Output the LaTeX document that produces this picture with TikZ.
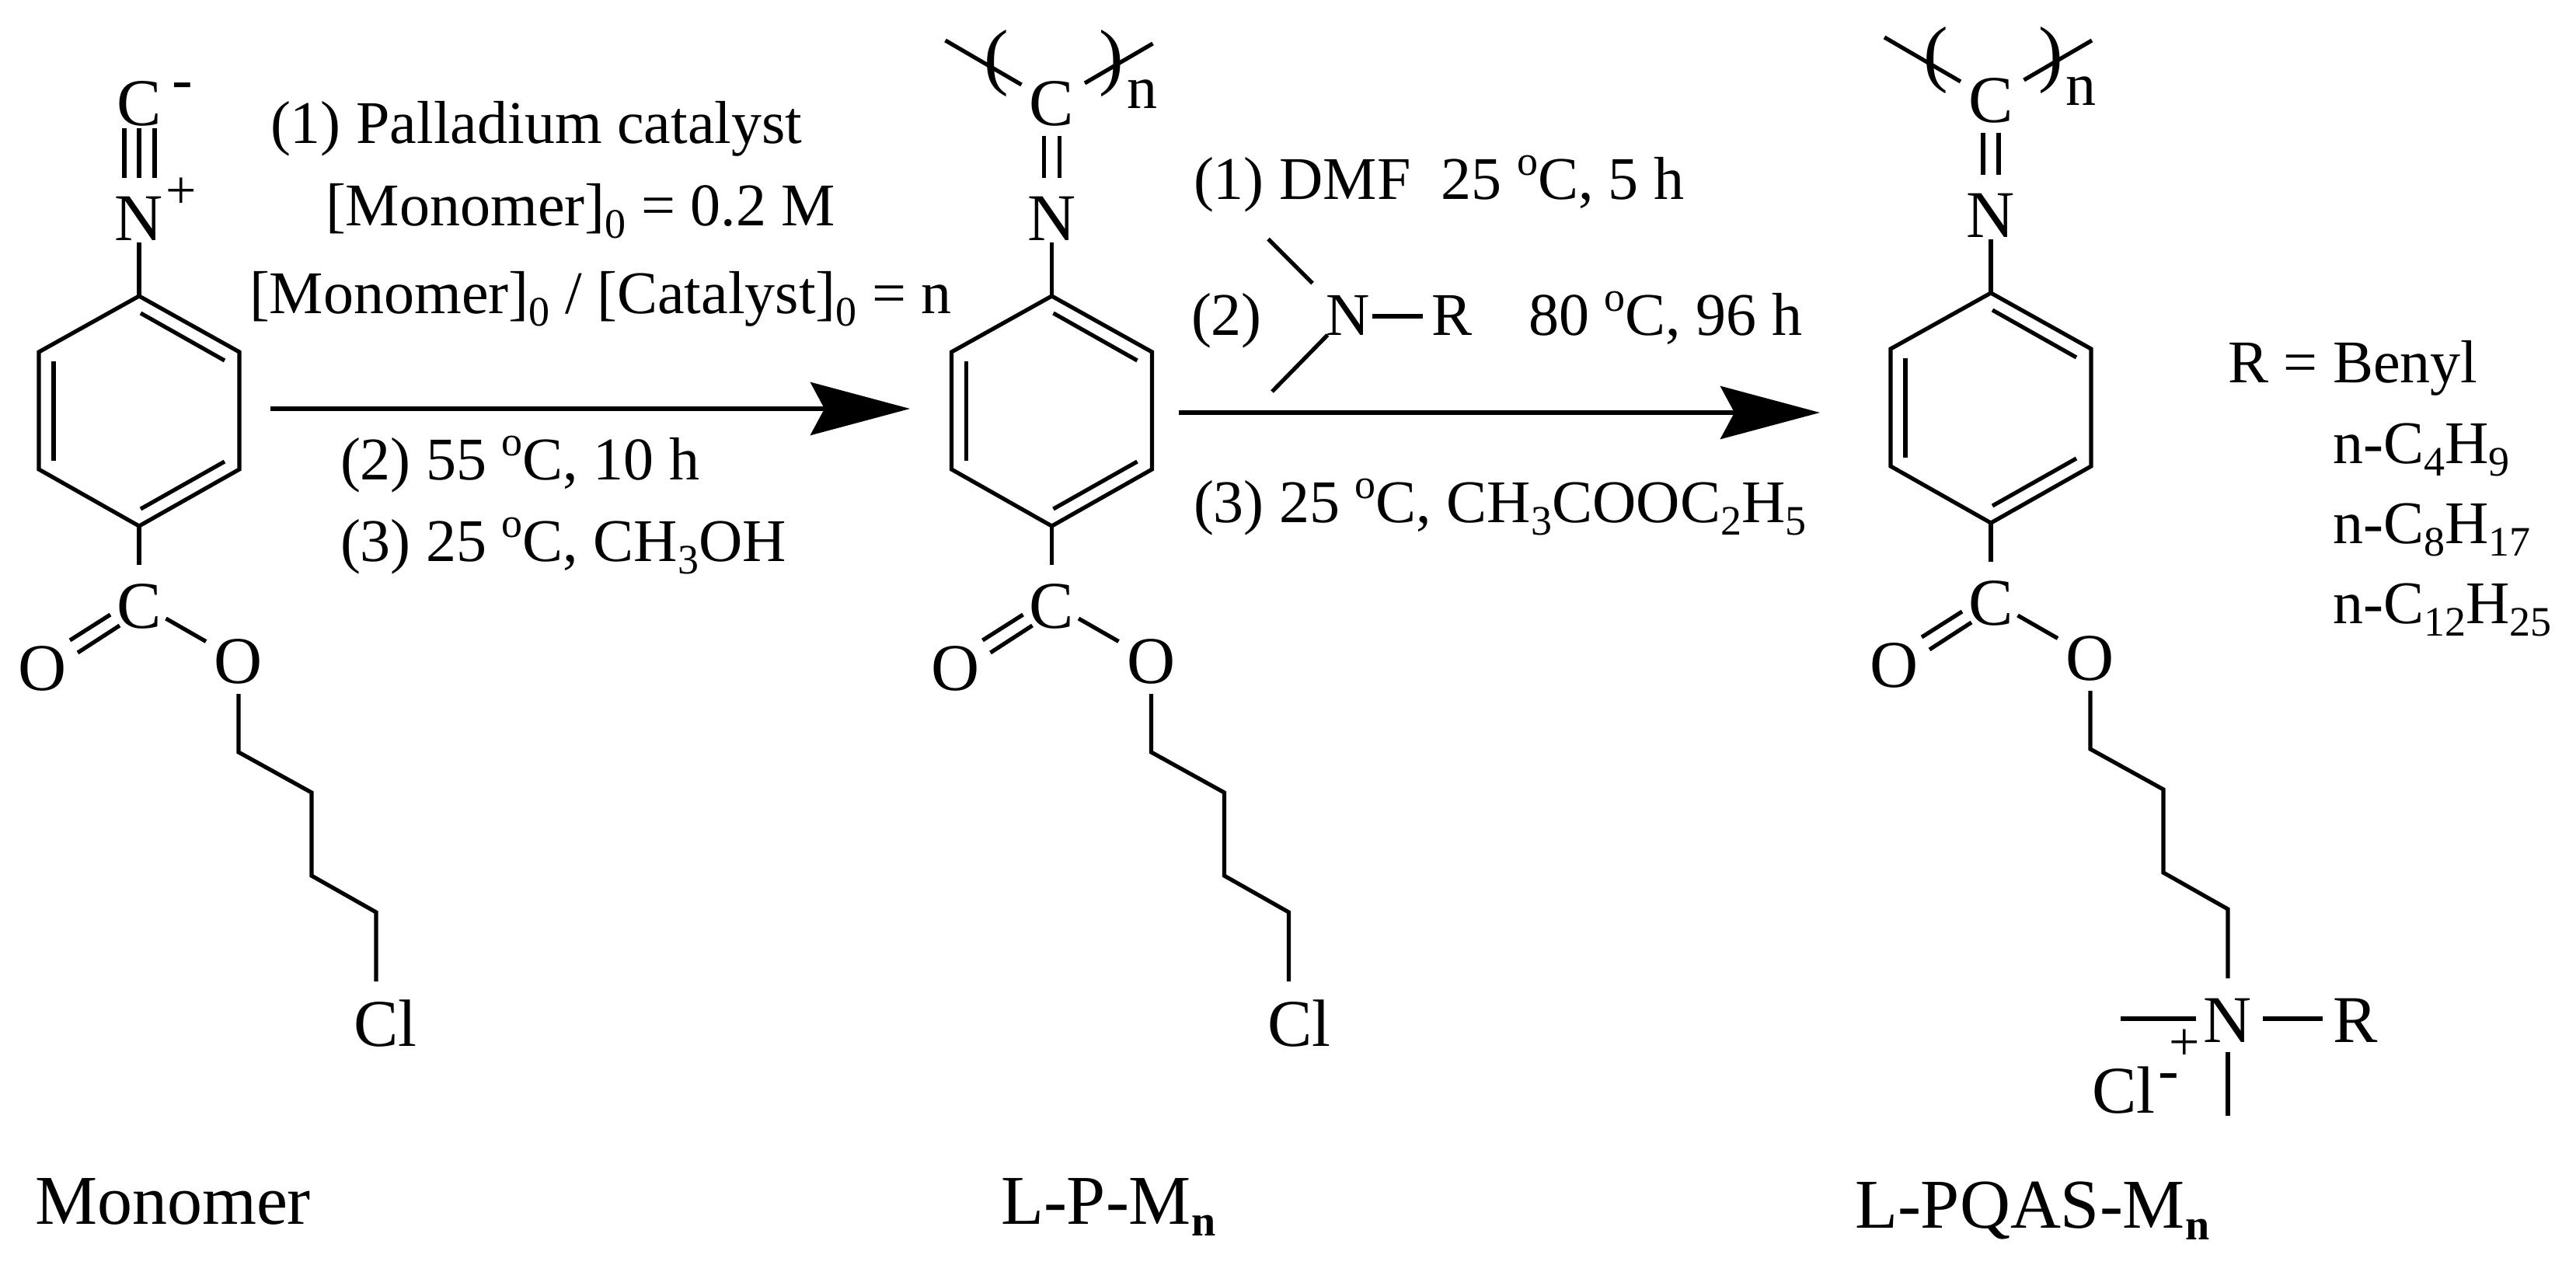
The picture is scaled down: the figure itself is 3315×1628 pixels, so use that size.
\documentclass[tikz,border=0pt]{standalone}
\usepackage{fontspec}
\usetikzlibrary{arrows.meta}
\setmainfont{Liberation Serif}
\newcommand\fsz[1]{\fontsize{#1}{#1}\selectfont}
\newcommand\lowtxt[1]{\raisebox{-8pt}{\fsz{27pt}#1}}
\newcommand\degc{\raisebox{15.5pt}{\fsz{27pt}o}C}
\newcommand\lowbold[1]{\raisebox{-7.5pt}{\fsz{28pt}\bfseries #1}}
\tikzset{
  x=0.5pt,y=-0.5pt,
  bond/.style={line width=2.6pt,line cap=butt,line join=miter},
  atom/.style={inner sep=0pt,outer sep=0pt,anchor=base,font=\fsz{43pt}},
  txt/.style={inner sep=0pt,outer sep=0pt,anchor=base west,font=\fsz{39pt}},
  lab/.style={inner sep=0pt,outer sep=0pt,anchor=base west,font=\fsz{45pt}},
  charge/.style={inner sep=0pt,outer sep=0pt,anchor=base,font=\fsz{35pt}},
  minus/.style={inner sep=0pt,outer sep=0pt,anchor=base,font=\fsz{40pt}},
  paren/.style={inner sep=0pt,outer sep=0pt,anchor=base,font=\fsz{47.5pt}},
  rxn/.style={line width=3pt,-{Stealth[length=64pt,width=34pt,inset=9pt]}},
}
% #1 prefix, #2 ring centre x, #3 vertical offset
\newcommand\molbody[3]{%
\begin{scope}[shift={(#2,#3)}]
  \node[atom] (#1N) at (0,309) {N};
  \node[atom] (#1C) at (0,808) {C};
  \node[atom] (#1Oa) at (-124,888) {O};
  \node[atom] (#1Ob) at (128,879) {O};
  \coordinate (#1r1) at (0,381);
  \coordinate (#1r2) at (129,453);
  \coordinate (#1r3) at (129,604);
  \coordinate (#1r4) at (0,677);
  \coordinate (#1r5) at (-129,604);
  \coordinate (#1r6) at (-129,453);
  \coordinate (#1s1) at (0,312);
  \coordinate (#1s2) at (0,727);
  \draw[bond] (#1r1)--(#1r2)--(#1r3)--(#1r4)--(#1r5)--(#1r6)--cycle;
  \draw[bond] (#1s1)--(#1r1);
  \draw[bond] (#1r4)--(#1s2);
  \coordinate (#1d1a) at (2,403); \coordinate (#1d1b) at (110,464);
  \coordinate (#1d2a) at (-110,465); \coordinate (#1d2b) at (-110,593);
  \coordinate (#1d3a) at (2,655); \coordinate (#1d3b) at (110,594);
  \draw[bond] (#1d1a)--(#1d1b);
  \draw[bond] (#1d2a)--(#1d2b);
  \draw[bond] (#1d3a)--(#1d3b);
  \coordinate (#1e1a) at (-89,824); \coordinate (#1e1b) at (-37,791);
  \coordinate (#1e2a) at (-79,840); \coordinate (#1e2b) at (-25,805);
  \coordinate (#1e3a) at (34.5,796); \coordinate (#1e3b) at (86,825.5);
  \draw[bond] (#1e1a)--(#1e1b);
  \draw[bond] (#1e2a)--(#1e2b);
  \draw[bond] (#1e3a)--(#1e3b);
  \coordinate (#1c1) at (128,893);
  \coordinate (#1c2) at (128,968);
  \coordinate (#1c3) at (222,1020);
  \coordinate (#1c4) at (222,1127);
  \coordinate (#1c5) at (305,1174);
  \coordinate (#1c6) at (305,1263);
  \draw[bond] (#1c1)--(#1c2)--(#1c3)--(#1c4)--(#1c5)--(#1c6);
\end{scope}}
% polymer head
\newcommand\polyhead[3]{%
\begin{scope}[shift={(#2,#3)}]
  \node[atom] (#1Ct) at (0,161) {C};
  \node[paren] (#1pl) at (-71,104) {(};
  \node[paren] (#1pr) at (77,104) {)};
  \node[inner sep=0pt,anchor=base,font=\fsz{39pt}] (#1n) at (116,139) {n};
  \coordinate (#1u1a) at (-137,52); \coordinate (#1u1b) at (-39,109);
  \coordinate (#1u2a) at (130,56); \coordinate (#1u2b) at (42.5,107);
  \coordinate (#1v1a) at (-10,175); \coordinate (#1v1b) at (-10,229);
  \coordinate (#1v2a) at (10,175); \coordinate (#1v2b) at (10,229);
  \draw[bond] (#1u1a)--(#1u1b);
  \draw[bond] (#1u2a)--(#1u2b);
  \draw[bond] (#1v1a)--(#1v1b);
  \draw[bond] (#1v2a)--(#1v2b);
\end{scope}}
\begin{document}
\begin{tikzpicture}
\useasboundingbox (0,0) rectangle (3315,1628);
% ---- Monomer
\molbody{a}{179}{0}
\node[atom] (aCt) at (179,161) {C};
\node[minus] (amin) at (235,128) {-};
\node[charge] (aplus) at (233,268) {+};
\coordinate (at1a) at (160,165); \coordinate (at1b) at (160,229);
\coordinate (at2a) at (179,165); \coordinate (at2b) at (179,229);
\coordinate (at3a) at (199,165); \coordinate (at3b) at (199,229);
\draw[bond] (at1a)--(at1b);
\draw[bond] (at2a)--(at2b);
\draw[bond] (at3a)--(at3b);
\node[atom,anchor=base west] (aCl) at (455,1346) {Cl};
\node[lab] (lmono) at (45,1575) {Monomer};
% ---- L-P-Mn
\molbody{b}{1353.5}{0}
\polyhead{b}{1353.5}{0}
\node[atom,anchor=base west] (bCl) at (1631,1346) {Cl};
\node[lab] (lpm) at (1288,1575) {L-P-M\lowbold{n}};
% ---- L-PQAS-Mn
\molbody{c}{2562}{-4}
\polyhead{c}{2562}{-4}
\node[atom] (cN2) at (2867,1341) {N};
\node[atom] (cR) at (3031,1341) {R};
\node[charge] (cplus) at (2811,1364) {+};
\node[atom,anchor=base west] (cCl) at (2692,1432) {Cl};
\node[minus] (cmin) at (2791,1403) {-};
\coordinate (cb1a) at (2729,1311); \coordinate (cb1b) at (2826,1311);
\coordinate (cb2a) at (2912,1311); \coordinate (cb2b) at (2989,1311);
\coordinate (cb3a) at (2867,1354); \coordinate (cb3b) at (2867,1436);
\draw[bond] (cb1a)--(cb1b);
\draw[bond] (cb2a)--(cb2b);
\draw[bond] (cb3a)--(cb3b);
\node[lab] (lpq) at (2387,1580) {L-PQAS-M\lowbold{n}};
% ---- arrows
\coordinate (ar1s) at (348,526); \coordinate (ar1e) at (1171,526);
\coordinate (ar2s) at (1517,531); \coordinate (ar2e) at (2342,531);
\draw[rxn] (ar1s)--(ar1e);
\draw[rxn] (ar2s)--(ar2e);
% ---- conditions 1
\node[txt] (t1) at (348,184) {(1) Palladium catalyst};
\node[txt] (t2) at (419,290) {[Monomer]\lowtxt{0} = 0.2 M};
\node[txt] (t3) at (321,403) {[Monomer]\lowtxt{0} / [Catalyst]\lowtxt{0} = n};
\node[txt] (t4) at (438,617) {(2) 55 \degc, 10 h};
\node[txt] (t5) at (438,722) {(3) 25 \degc, CH\lowtxt{3}OH};
% ---- conditions 2
\node[txt] (u1) at (1536,256) {(1) DMF\ \ 25 \degc, 5 h};
\node[txt] (u2) at (1533,431) {(2)};
\node[txt,anchor=base] (uN) at (1735,431) {N};
\node[txt,anchor=base] (uR) at (1868,431) {R};
\node[txt] (u3) at (1967,431) {80 \degc, 96 h};
\node[txt] (u4) at (1536,672) {(3) 25 \degc, CH\lowtxt{3}COOC\lowtxt{2}H\lowtxt{5}};
\coordinate (ub1a) at (1632,307.5); \coordinate (ub1b) at (1689,364.5);
\coordinate (ub2a) at (1708.5,431); \coordinate (ub2b) at (1637,504);
\coordinate (ub3a) at (1766,407); \coordinate (ub3b) at (1831,407);
\draw[bond] (ub1a)--(ub1b);
\draw[bond] (ub2a)--(ub2b);
\draw[bond] (ub3a)--(ub3b);
% ---- R list
\node[txt] (r0) at (2867,492) {R = Benyl};
\node[txt] (r1) at (3002,596) {n-C\lowtxt{4}H\lowtxt{9}};
\node[txt] (r2) at (3002,699) {n-C\lowtxt{8}H\lowtxt{17}};
\node[txt] (r3) at (3002,802) {n-C\lowtxt{12}H\lowtxt{25}};
\end{tikzpicture}
\end{document}
